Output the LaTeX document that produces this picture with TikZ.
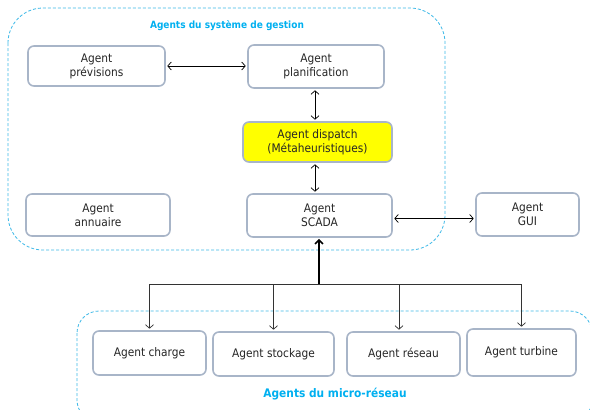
\documentclass[tikz,border=0pt]{standalone}
\usepackage{fontspec}
\setmainfont{DejaVu Sans}[FakeStretch=0.9]
\usetikzlibrary{arrows.meta}
\definecolor{regionblue}{RGB}{60,185,232}
\definecolor{labelblue}{RGB}{0,176,240}
\definecolor{boxborder}{RGB}{168,181,200}
\definecolor{dispatchyellow}{RGB}{255,255,0}
\begin{document}
\begin{tikzpicture}[x=1pt,y=-1pt,
  agentbox/.style={draw=boxborder, line width=1.6pt, rounded corners=6pt, fill=white,
    align=center, inner sep=0pt, font=\fontsize{11.8}{14}\selectfont, text=black!85},
  region/.style={draw=regionblue, line width=0.8pt, dash pattern=on 3pt off 2pt},
  regionlabel/.style={text=labelblue, font=\fontsize{10}{12}\selectfont\bfseries},
  link/.style={draw=black, line width=0.7pt, {Straight Barb[length=3.5pt,width=8pt]}-{Straight Barb[length=3.5pt,width=8pt]}, shorten <=1.5pt, shorten >=1.5pt},
  feed/.style={draw=black!80, line width=0.7pt, -{Straight Barb[length=3.5pt,width=8pt]}, shorten >=1.5pt},
  mainfeed/.style={draw=black, line width=1.6pt, -{Straight Barb[length=4pt,width=8pt]}, shorten >=1pt}]
\useasboundingbox (0,0) rectangle (590,410);
\fill[white] (0,0) rectangle (590,410);

% dashed group outlines
\draw[region, rounded corners=35pt] (8,8) rectangle (445,250);
\draw[region, rounded corners=22pt] (77,311) rectangle (592,422);
\node[regionlabel] (lblgestion) at (227,26) {Agents du système de gestion};
\node[regionlabel, font=\fontsize{11.8}{14}\selectfont\bfseries] (lblmicro) at (335,394) {Agents du micro-réseau};

% management agents
\node[agentbox, minimum width=137pt, minimum height=40pt] (prev) at (96.5,66) {Agent\\prévisions};
\node[agentbox, minimum width=136pt, minimum height=43pt] (plan) at (316,66.5) {Agent\\planification};
\node[agentbox, fill=dispatchyellow, minimum width=149pt, minimum height=40pt] (disp) at (317.5,142) {Agent dispatch\\(Métaheuristiques)};
\node[agentbox, minimum width=145pt, minimum height=43pt] (scada) at (319.5,215.5) {Agent\\SCADA};
\node[agentbox, minimum width=144pt, minimum height=42pt] (annu) at (98,215) {Agent\\annuaire};
\node[agentbox, minimum width=103pt, minimum height=43pt] (gui) at (527.5,214.5) {Agent\\GUI};

% micro-grid agents
\node[agentbox, minimum width=113pt, minimum height=44pt] (charge) at (149.5,353) {Agent charge};
\node[agentbox, minimum width=121pt, minimum height=44pt] (stock) at (273.5,354) {Agent stockage};
\node[agentbox, minimum width=113pt, minimum height=44pt] (reseau) at (403.5,354) {Agent réseau};
\node[agentbox, minimum width=109pt, minimum height=47pt] (turb) at (521.5,352.5) {Agent turbine};

% two-way links
\draw[link] (prev.east) -- (prev.east -| plan.west);
\draw[link] ([xshift=-1pt]plan.south) -- ([xshift=-1pt]plan.south |- disp.north);
\draw[link] ([xshift=-2.5pt]disp.south) -- ([xshift=-2.5pt]disp.south |- scada.north);
\draw[link] ([yshift=-3pt]scada.east) -- ([yshift=-3pt]scada.east -| gui.west);

% distribution bus from SCADA to the micro-grid agents
\coordinate (bus) at (319,284);
\draw[mainfeed] (bus) -- (bus |- scada.south);
\draw[draw=black!80, line width=0.7pt] (bus -| charge.north) -- (bus -| turb.north);
\draw[feed] (bus -| charge.north) -- (charge.north);
\draw[feed] (bus -| stock.north) -- (stock.north);
\draw[feed] ([xshift=-4.5pt]reseau.north |- bus) -- ([xshift=-4.5pt]reseau.north);
\draw[feed] (bus -| turb.north) -- (turb.north);
\end{tikzpicture}
\end{document}
